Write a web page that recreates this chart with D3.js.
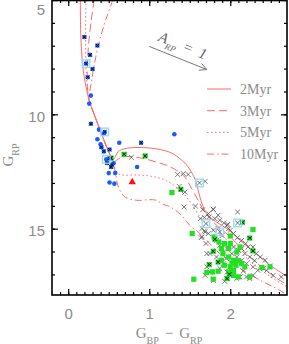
<!DOCTYPE html>
<html>
<head>
<meta charset="utf-8">
<script src="https://cdn.jsdelivr.net/npm/d3@7"></script>
<style>
  html, body { margin: 0; padding: 0; background: #fff; }
  svg { display: block; }
</style>
</head>
<body>
<svg id="chart"></svg>
<script>
// colour (G_BP - G_RP), magnitude (G_RP), 1 = has a cross on top
const blueDots = [
  [0.20, 6.62, 1], [0.36, 6.99, 1], [0.27, 7.40, 1], [0.22, 7.78, 1], [0.30, 8.02, 1],
  [0.24, 8.38, 1], [0.28, 9.18, 0], [0.26, 9.53, 0], [0.28, 10.41, 1], [0.38, 10.67, 0],
  [0.45, 10.77, 1], [0.44, 10.84, 0], [0.36, 11.09, 0], [0.40, 11.31, 0], [0.41, 11.44, 1],
  [0.51, 11.54, 1], [0.44, 11.62, 1], [0.63, 11.24, 0], [0.90, 11.24, 1], [0.47, 11.97, 0],
  [0.51, 11.92, 1], [0.48, 12.13, 1], [0.54, 12.20, 1], [0.53, 12.30, 1], [0.56, 12.14, 0],
  [0.50, 12.57, 0], [0.58, 12.57, 0], [0.51, 12.98, 0], [0.57, 13.03, 0], [0.85, 12.30, 0],
  [1.31, 10.87, 0]
]

const greenSquares = [
  [0.53, 11.91, 1], [0.69, 11.75, 1], [0.95, 11.82, 1], [1.28, 13.42, 0], [1.39, 13.28, 1],
  [1.53, 15.21, 0], [2.15, 14.72, 1], [2.28, 15.04, 0], [2.24, 15.41, 1], [1.80, 15.36, 0],
  [1.86, 15.58, 0], [1.93, 15.65, 0], [2.00, 15.32, 0], [1.81, 15.46, 1], [1.89, 15.87, 0],
  [1.98, 15.87, 0], [1.79, 15.99, 1], [1.91, 16.09, 0], [1.98, 16.24, 0], [2.04, 16.38, 0],
  [1.89, 16.38, 0], [1.93, 16.60, 0], [2.00, 16.67, 0], [2.04, 16.82, 0], [1.98, 16.89, 0],
  [1.74, 16.57, 1], [1.85, 16.46, 1], [1.71, 16.92, 0], [1.78, 16.89, 0], [1.85, 16.86, 0],
  [1.55, 17.21, 0], [1.79, 17.21, 0], [1.96, 17.18, 1], [2.10, 17.11, 0], [2.08, 16.02, 0],
  [2.12, 15.80, 0], [2.14, 16.53, 0], [2.28, 15.97, 1], [2.39, 16.70, 0], [2.18, 16.67, 0],
  [2.04, 17.04, 0], [2.24, 17.11, 0], [2.00, 15.65, 0], [2.02, 16.50, 0], [2.07, 16.60, 0],
  [2.10, 16.40, 0], [1.99, 16.99, 1], [2.49, 16.67, 0]
]

const crosses = [
  [0.78, 11.88], [1.35, 12.63], [1.42, 12.59], [1.48, 12.63], [1.69, 12.93], [1.62, 13.00],
  [1.37, 13.15], [1.44, 13.40], [1.43, 14.05], [1.57, 14.01], [1.66, 14.17], [1.79, 14.15],
  [2.09, 14.27], [1.70, 14.78], [1.87, 15.14], [2.09, 14.75], [1.65, 15.36], [2.53, 17.04],
  [1.79, 14.16], [1.63, 14.56], [1.68, 14.51], [1.74, 14.49], [1.81, 14.56], [1.87, 14.63],
  [1.92, 14.75], [1.97, 14.81], [1.65, 14.99], [1.69, 15.14], [1.64, 15.39], [1.73, 15.21],
  [1.79, 15.07], [1.85, 14.99], [2.00, 15.07], [2.04, 15.21], [2.09, 15.39], [2.14, 15.51],
  [2.19, 15.65], [2.22, 15.80], [2.28, 15.80], [2.32, 16.09], [2.37, 16.24], [2.43, 16.38],
  [2.49, 16.63], [2.63, 17.11], [1.83, 15.51], [1.87, 15.73], [1.96, 15.87], [2.02, 16.09],
  [2.08, 16.24], [2.14, 16.38], [2.20, 16.53], [2.28, 16.67], [2.34, 16.82], [2.45, 16.82],
  [1.71, 16.67], [1.75, 16.89], [1.87, 16.74], [1.96, 16.89], [2.04, 16.96], [2.12, 17.11],
  [2.20, 17.11], [2.28, 17.04], [2.41, 16.74], [2.06, 16.46], [1.83, 16.24], [1.91, 16.53],
  [2.00, 16.67], [2.18, 16.09], [2.24, 16.24], [2.04, 15.80], [2.10, 15.95], [2.14, 15.87],
  [1.75, 16.09], [1.69, 17.04], [1.79, 17.26], [1.96, 17.18], [2.08, 17.18], [2.24, 17.18],
  [1.73, 14.34], [1.85, 14.41], [1.96, 14.85], [1.98, 15.00], [1.71, 16.09], [1.68, 15.10],
  [1.70, 15.65], [1.90, 15.30], [1.95, 16.30], [2.16, 16.85], [1.93, 17.30], [2.30, 16.40]
]

const cyanBoxes = [
  [0.22, 7.78], [0.45, 10.77], [0.47, 11.97], [1.62, 13.00], [1.70, 14.78], [1.87, 15.14], [2.09, 14.75]
]

const redTriangle = [[0.79, 12.96]]

// isochrones
const iso2 = [
  [0.15, 5.0], [0.155, 6.5], [0.18, 7.9], [0.22, 8.8], [0.26, 9.4], [0.32, 10.0], [0.40, 10.75],
  [0.46, 11.3], [0.52, 11.8], [0.55, 12.0], [0.58, 11.85], [0.62, 11.62], [0.70, 11.5],
  [0.85, 11.45], [1.0, 11.47], [1.15, 11.55], [1.28, 11.7], [1.40, 12.0], [1.48, 12.3],
  [1.57, 12.88], [1.61, 13.4], [1.65, 13.9], [1.71, 14.34], [1.83, 14.71], [1.96, 15.0],
  [2.12, 15.51], [2.30, 16.03], [2.49, 16.6], [2.72, 17.12]
]
const iso3 = [
  [0.32, 5.0], [0.28, 6.0], [0.25, 7.0], [0.235, 8.0], [0.24, 8.9], [0.26, 9.4], [0.32, 10.0],
  [0.40, 10.75], [0.46, 11.3], [0.52, 11.8], [0.56, 12.1], [0.60, 12.0], [0.66, 11.87],
  [0.80, 11.86], [0.95, 11.95], [1.10, 12.1], [1.26, 12.3], [1.42, 12.67], [1.50, 13.1],
  [1.59, 13.68], [1.67, 14.19], [1.79, 14.71], [2.0, 15.36], [2.20, 16.09], [2.41, 16.74],
  [2.61, 17.26], [2.72, 17.47]
]
const iso5 = [
  [0.22, 5.0], [0.215, 6.0], [0.215, 7.0], [0.22, 8.0], [0.24, 8.9], [0.26, 9.4], [0.32, 10.0],
  [0.40, 10.75], [0.46, 11.3], [0.52, 11.8], [0.57, 12.3], [0.62, 12.6], [0.70, 12.66],
  [0.85, 12.65], [1.01, 12.7], [1.18, 12.85], [1.30, 13.1], [1.42, 13.45], [1.52, 13.9],
  [1.62, 14.45], [1.75, 14.9], [2.04, 15.73], [2.28, 16.53], [2.53, 17.18], [2.72, 17.58]
]
const iso10 = [
  [0.55, 5.0], [0.47, 5.8], [0.40, 6.6], [0.34, 7.5], [0.29, 8.5], [0.26, 9.4], [0.32, 10.0],
  [0.40, 10.75], [0.46, 11.3], [0.52, 11.8], [0.58, 12.5], [0.62, 13.18], [0.70, 13.61],
  [0.85, 13.76], [1.01, 13.73], [1.09, 13.76], [1.15, 13.9], [1.26, 14.05], [1.40, 14.42],
  [1.50, 14.85], [1.59, 15.1], [1.71, 15.51], [1.87, 16.09], [2.12, 16.74], [2.37, 17.26],
  [2.61, 17.69], [2.70, 17.9]
]

const isoNames = ['2Myr', '3Myr', '5Myr', '10Myr']
const isoDash = [null, '8,4', '1.5,2.5', '7,3,1.5,3']
const isochrones = [iso2, iso3, iso5, iso10]

const extinction = [[1.0, 7.03], [1.71, 8.04]]

const W = 289, H = 344
const plot = { left: 52, right: 287, top: 0, bottom: 295 }
const RED = '#ff6a6a'
const GREY = '#8c8c8c'

const x = d3.scaleLinear().domain([-0.2, 2.7]).range([plot.left, plot.right])
const y = d3.scaleLinear().domain([5, 17.9]).range([plot.top, plot.bottom])

const svg = d3.select('#chart').attr('width', W).attr('height', H)
  .style('font-family', '"Liberation Serif", serif')

svg.append('defs').append('clipPath').attr('id', 'clip')
  .append('rect')
  .attr('x', plot.left).attr('y', plot.top)
  .attr('width', plot.right - plot.left).attr('height', plot.bottom - plot.top)

const g = svg.append('g').attr('clip-path', 'url(#clip)')

// isochrone curves
const line = d3.line().x(d => x(d[0])).y(d => y(d[1])).curve(d3.curveCatmullRom.alpha(0.5))
isochrones.forEach((iso, i) => {
  g.append('path')
    .attr('d', line(iso))
    .attr('fill', 'none')
    .attr('stroke', RED)
    .attr('stroke-width', 1)
    .attr('stroke-dasharray', isoDash[i])
})

function crossPath(cx, cy, r) {
  return `M${cx - r},${cy - r}L${cx + r},${cy + r}M${cx - r},${cy + r}L${cx + r},${cy - r}`
}

// plain crosses
g.append('g').selectAll('path')
  .data(crosses)
  .enter()
  .append('path')
  .attr('d', d => crossPath(x(d[0]), y(d[1]), 2.4))
  .attr('stroke', '#555')
  .attr('stroke-width', 0.8)
  .attr('fill', 'none')

// green squares
g.append('g').selectAll('rect')
  .data(greenSquares)
  .enter()
  .append('rect')
  .attr('x', d => x(d[0]) - 2.6)
  .attr('y', d => y(d[1]) - 2.6)
  .attr('width', 5.2)
  .attr('height', 5.2)
  .attr('fill', '#22e022')

// blue dots
g.append('g').selectAll('circle')
  .data(blueDots)
  .enter()
  .append('circle')
  .attr('cx', d => x(d[0]))
  .attr('cy', d => y(d[1]))
  .attr('r', 2.3)
  .attr('fill', '#1a5cff')

// crosses over the matched blue/green objects
g.append('g').selectAll('path')
  .data(blueDots.concat(greenSquares).filter(d => d[2]))
  .enter()
  .append('path')
  .attr('d', d => crossPath(x(d[0]), y(d[1]), 1.8))
  .attr('stroke', '#0a1030')
  .attr('stroke-width', 1)
  .attr('fill', 'none')

// cyan boxes
g.append('g').selectAll('rect')
  .data(cyanBoxes)
  .enter()
  .append('rect')
  .attr('x', d => x(d[0]) - 3.8)
  .attr('y', d => y(d[1]) - 3.8)
  .attr('width', 7.6)
  .attr('height', 7.6)
  .attr('fill', 'none')
  .attr('stroke', '#8fdcff')
  .attr('stroke-width', 1.3)

// red triangle
g.append('g').selectAll('path')
  .data(redTriangle)
  .enter()
  .append('path')
  .attr('d', d3.symbol().type(d3.symbolTriangle).size(24))
  .attr('transform', d => `translate(${x(d[0])},${y(d[1])})`)
  .attr('fill', '#ff1010')

// extinction arrow
const [a0, a1] = extinction.map(d => [x(d[0]), y(d[1])])
const ang = Math.atan2(a1[1] - a0[1], a1[0] - a0[0])
svg.append('line')
  .attr('x1', a0[0]).attr('y1', a0[1]).attr('x2', a1[0]).attr('y2', a1[1])
  .attr('stroke', '#777').attr('stroke-width', 1)
const head = [ang + Math.PI * 0.85, ang - Math.PI * 0.85]
  .map(t => `M${a1[0]},${a1[1]}L${a1[0] + 8 * Math.cos(t)},${a1[1] + 8 * Math.sin(t)}`)
svg.append('path').attr('d', head.join('')).attr('stroke', '#777').attr('fill', 'none')

const arrowText = svg.append('text')
  .attr('transform', `translate(${(a0[0] + a1[0]) / 2 + 3},${(a0[1] + a1[1]) / 2 - 8}) rotate(${ang * 180 / Math.PI})`)
  .attr('text-anchor', 'middle')
  .attr('fill', '#666')
  .style('font-size', '15px')
  .style('font-style', 'italic')
arrowText.append('tspan').text('A')
arrowText.append('tspan').attr('baseline-shift', 'sub').style('font-size', '9px').text('RP')
arrowText.append('tspan').attr('dx', 6).text('=')
arrowText.append('tspan').attr('dx', 7).text('1')

// legend
const legend = svg.append('g')
isoNames.forEach((name, i) => {
  const ly = 89 + i * 21.7
  legend.append('line')
    .attr('x1', 207).attr('x2', 231).attr('y1', ly).attr('y2', ly)
    .attr('stroke', RED).attr('stroke-width', 1)
    .attr('stroke-dasharray', isoDash[i])
  legend.append('text')
    .attr('x', 240).attr('y', ly + 5)
    .attr('fill', GREY)
    .style('font-size', '14px')
    .text(name)
})

// axes: ticks on all four sides, pointing inward
function addAxis(axisFn, scale, values, size, pos, labels) {
  const a = svg.append('g')
    .attr('transform', pos)
    .call(axisFn(scale).tickValues(values).tickSize(size).tickSizeOuter(0)
      .tickFormat(labels ? d3.format('d') : ''))
  a.select('.domain').remove()
  a.selectAll('.tick line').attr('stroke', '#000').attr('stroke-width', 1.2)
  return a
}

const xMinor = d3.range(-1, 27).map(d => d / 10)
const yMinor = d3.range(5, 18)

addAxis(d3.axisBottom, x, xMinor, -3, `translate(0,${plot.bottom})`, false)
addAxis(d3.axisTop, x, xMinor, -3, `translate(0,${plot.top})`, false)
addAxis(d3.axisLeft, y, yMinor, -3, `translate(${plot.left},0)`, false)
addAxis(d3.axisRight, y, yMinor, -3, `translate(${plot.right},0)`, false)
addAxis(d3.axisTop, x, [0, 1, 2], -6, `translate(0,${plot.top})`, false)
addAxis(d3.axisRight, y, [5, 10, 15], -6, `translate(${plot.right},0)`, false)

const xAxis = addAxis(d3.axisBottom, x, [0, 1, 2], -6, `translate(0,${plot.bottom})`, true)
xAxis.selectAll('.tick text')
  .attr('y', 24).attr('dy', 0)
  .attr('fill', GREY)
  .style('font-family', '"Liberation Sans", sans-serif')
  .style('font-size', '15px')

const yAxis = addAxis(d3.axisLeft, y, [5, 10, 15], -6, `translate(${plot.left},0)`, true)
yAxis.selectAll('.tick text')
  .attr('x', -7)
  .attr('dy', d => d === 5 ? '0.95em' : '0.45em')
  .attr('fill', GREY)
  .style('font-family', '"Liberation Sans", sans-serif')
  .style('font-size', '15px')

// frame
svg.append('rect')
  .attr('x', plot.left).attr('y', plot.top + 0.5)
  .attr('width', plot.right - plot.left).attr('height', plot.bottom - plot.top - 0.5)
  .attr('fill', 'none').attr('stroke', '#000').attr('stroke-width', 1.6)

// axis titles
const xTitle = svg.append('text')
  .attr('x', 169).attr('y', 338)
  .attr('text-anchor', 'middle')
  .attr('fill', GREY)
  .style('font-size', '15px')
xTitle.append('tspan').text('G')
xTitle.append('tspan').attr('baseline-shift', 'sub').style('font-size', '10px').text('BP')
xTitle.append('tspan').attr('dx', 6).text('−')
xTitle.append('tspan').attr('dx', 6).text('G')
xTitle.append('tspan').attr('baseline-shift', 'sub').style('font-size', '10px').text('RP')

const yTitle = svg.append('text')
  .attr('transform', 'translate(13,155) rotate(-90)')
  .attr('text-anchor', 'middle')
  .attr('fill', GREY)
  .style('font-size', '15px')
yTitle.append('tspan').text('G')
yTitle.append('tspan').attr('baseline-shift', 'sub').style('font-size', '10px').text('RP')
</script>
</body>
</html>
